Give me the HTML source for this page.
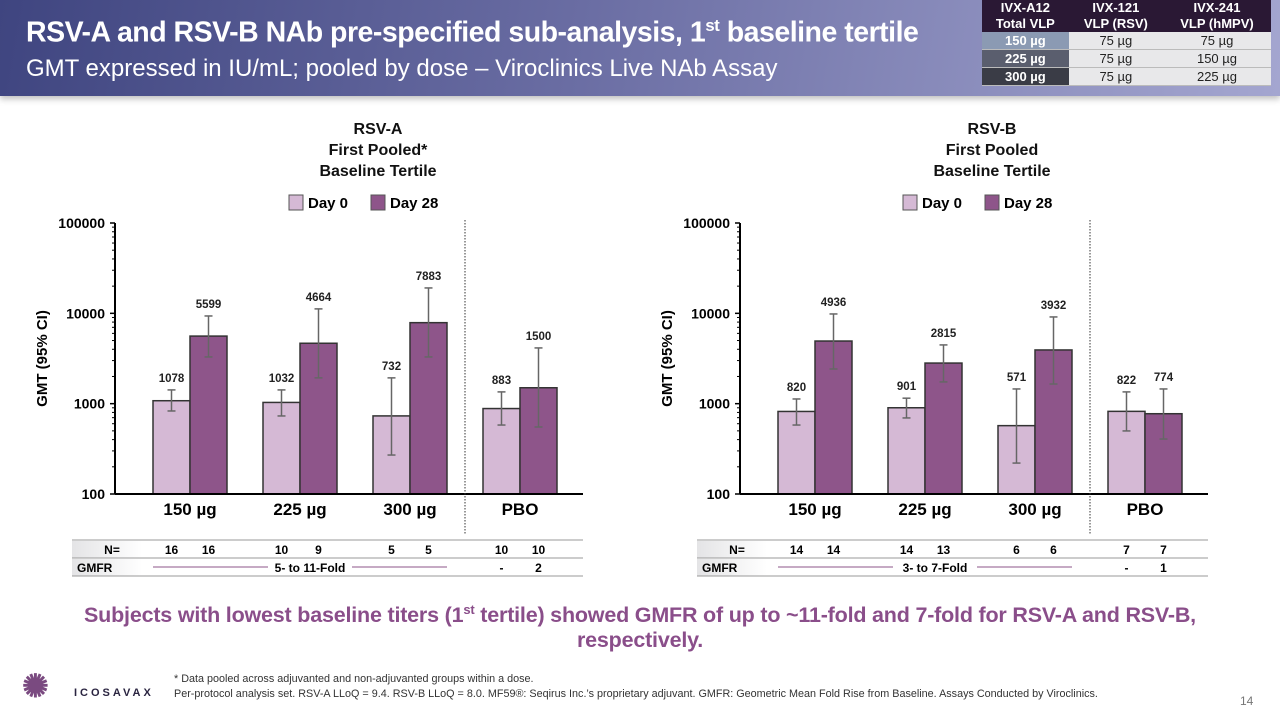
<!DOCTYPE html>
<html><head><meta charset="utf-8">
<style>
body{margin:0;width:1280px;height:720px;overflow:hidden;background:#fff;font-family:"Liberation Sans",sans-serif;position:relative}
.hdr{position:absolute;left:0;top:0;width:1280px;height:96px;background:linear-gradient(100deg,#3f4580 0%,#6a6da3 45%,#a4a6d0 100%);box-shadow:0 3px 6px rgba(0,0,0,.25)}
.title{position:absolute;left:26px;top:16px;color:#fff;font-weight:bold;font-size:28.5px;white-space:nowrap;letter-spacing:-0.5px}
.title sup{font-size:17px}
.sub{position:absolute;left:26px;top:55px;color:#fff;font-size:24px;white-space:nowrap}
table.dose{position:absolute;left:982px;top:0;width:289px;border-collapse:collapse;font-size:13px;text-align:center}
table.dose td{padding:0;height:17px;line-height:17px;border-bottom:1px solid #bbb}
table.dose tr.h td{background:#2a1834;color:#fff;font-weight:bold;height:16px;line-height:16px;border:none}
.l1{background:#8b9ab3;color:#fff;font-weight:bold}.l2{background:#5a5e6e;color:#fff;font-weight:bold}.l3{background:#3a3c46;color:#fff;font-weight:bold}
.c{background:#e8e8ea;color:#222}
.concl{position:absolute;left:20px;width:1240px;top:597px;text-align:center;color:#8a4e8a;font-weight:bold;font-size:21.5px;line-height:25px;letter-spacing:-0.2px}
.concl sup{font-size:13px}
.foot{position:absolute;left:174px;top:672px;font-size:10.8px;color:#333;line-height:15px;white-space:nowrap}
.logo{position:absolute;left:74px;top:687px;font-size:11px;letter-spacing:3px;color:#2a2440;font-weight:bold}
.pg{position:absolute;left:1240px;top:694px;font-size:12px;color:#777}
</style></head><body>
<div class="hdr">
 <div class="title">RSV-A and RSV-B NAb pre-specified sub-analysis, 1<sup>st</sup> baseline tertile</div>
 <div class="sub">GMT expressed in IU/mL; pooled by dose – Viroclinics Live NAb Assay</div>
</div>
<table class="dose">
<tr class="h"><td>IVX-A12</td><td>IVX-121</td><td>IVX-241</td></tr>
<tr class="h"><td>Total VLP</td><td>VLP (RSV)</td><td>VLP (hMPV)</td></tr>
<tr><td class="l1">150 µg</td><td class="c">75 µg</td><td class="c">75 µg</td></tr>
<tr><td class="l2">225 µg</td><td class="c">75 µg</td><td class="c">150 µg</td></tr>
<tr><td class="l3">300 µg</td><td class="c">75 µg</td><td class="c">225 µg</td></tr>
</table>
<svg id="chart" width="1280" height="720" style="position:absolute;left:0;top:0"></svg>
<div class="concl">Subjects with lowest baseline titers (1<sup>st</sup> tertile) showed GMFR of up to ~11-fold and 7-fold for RSV-A and RSV-B,<br>respectively.</div>
<div class="logo"><span style="position:absolute;left:-52px;top:-20px;font-size:32px;color:#7a4a80;letter-spacing:0">✺</span>ICOSAVAX</div>
<div class="foot">* Data pooled across adjuvanted and non-adjuvanted groups within a dose.<br>Per-protocol analysis set. RSV-A LLoQ = 9.4. RSV-B LLoQ = 8.0. MF59®: Seqirus Inc.’s proprietary adjuvant. GMFR: Geometric Mean Fold Rise from Baseline. Assays Conducted by Viroclinics.</div>
<div class="pg">14</div>
<script>
const categories=["150 µg","225 µg","300 µg","PBO"];
const yTicks=[100,1000,10000,100000];
const aDay0=[1078,1032,732,883];
const aDay0Lo=[830,731,270,580];
const aDay0Hi=[1420,1420,1930,1350];
const aDay28=[5599,4664,7883,1500];
const aDay28Lo=[3290,1930,3290,552];
const aDay28Hi=[9350,11200,19100,4140];
const aN0=["16","10","5","10"];
const aN28=["16","9","5","10"];
const aGmfr="5- to 11-Fold";const aPbo=["-","2"];
const bDay0=[820,901,571,822];
const bDay0Lo=[580,695,220,499];
const bDay0Hi=[1127,1150,1455,1350];
const bDay28=[4936,2815,3932,774];
const bDay28Lo=[2420,1740,1650,406];
const bDay28Hi=[9840,4470,9120,1455];
const bN0=["14","14","6","7"];
const bN28=["14","13","6","7"];
const bGmfr="3- to 7-Fold";const bPbo=["-","1"];

const svg=document.getElementById('chart');const NS='http://www.w3.org/2000/svg';
function mk(t,a,txt){const e=document.createElementNS(NS,t);for(const k in a)e.setAttribute(k,a[k]);if(txt!==undefined)e.textContent=txt;svg.appendChild(e);return e;}
const FF='"Liberation Sans",sans-serif';
function draw(o){
 const x0=o.x0,xR=o.x0+468,yB=494,yT=223,step=110,c0=o.x0+75,bw=37;
 const y=v=>yB-(Math.log10(v)-2)*(yB-yT)/3;
 const cx=i=>c0+i*step;
 o.title.forEach((t,i)=>{const e=mk('text',{x:o.tx,y:134+i*21,'text-anchor':'middle','font-size':16,'font-weight':'bold','font-family':FF,fill:'#111'},t);
 });
 let lg=mk('rect',{x:o.tx-89,y:195,width:14,height:15,fill:'#d5b9d5',stroke:'#555'});
 
 let lt=mk('text',{x:o.tx-70,y:208,'font-size':15,'font-weight':'bold','font-family':FF},'Day 0');
 
 lg=mk('rect',{x:o.tx-7,y:195,width:14,height:15,fill:'#8e558a',stroke:'#555'});
 
 lt=mk('text',{x:o.tx+12,y:208,'font-size':15,'font-weight':'bold','font-family':FF},'Day 28');
 
 const yt=mk('text',{x:0,y:0,transform:`translate(${x0-68},${(yB+yT)/2}) rotate(-90)`,'text-anchor':'middle','font-size':15,'font-weight':'bold','font-family':FF},'GMT (95% CI)');
 
 yTicks.forEach((t,k)=>{const tl=mk('text',{x:x0-10,y:y(t)+5,'text-anchor':'end','font-size':14,'font-weight':'bold','font-family':FF},String(t));
  
  mk('line',{x1:x0-5,x2:x0,y1:y(t),y2:y(t),stroke:'#000','stroke-width':1.5});
  if(k<3)for(let m=2;m<10;m++)mk('line',{x1:x0-3,x2:x0,y1:y(t*m),y2:y(t*m),stroke:'#000','stroke-width':1});});
 const series=[[o.d0,o.d0lo,o.d0hi,'#d5b9d5',-1,'day0'],[o.d28,o.d28lo,o.d28hi,'#8e558a',0,'day28']];
 categories.forEach((c,i)=>{
  series.forEach(s=>{const bx=cx(i)+s[4]*bw;const r=mk('rect',{x:bx,y:y(s[0][i]),width:bw,height:yB-y(s[0][i]),fill:s[3],stroke:'#333','stroke-width':1.5});
   
   const mx=bx+bw/2;mk('line',{x1:mx,x2:mx,y1:y(s[1][i]),y2:y(s[2][i]),stroke:'#666','stroke-width':1.5});
   [s[1][i],s[2][i]].forEach(v=>mk('line',{x1:mx-4,x2:mx+4,y1:y(v),y2:y(v),stroke:'#666','stroke-width':1.5}));
   const vl=mk('text',{x:mx,y:y(s[2][i])-8,'text-anchor':'middle','font-size':11.5,'font-weight':'bold','font-family':FF,fill:'#222'},String(s[0][i]));
   });
  const cl=mk('text',{x:cx(i),y:yB+21,'text-anchor':'middle','font-size':17,'font-weight':'bold','font-family':FF},c);
  
 });
 mk('line',{x1:x0,x2:x0,y1:yT,y2:yB,stroke:'#000','stroke-width':2});
 mk('line',{x1:x0,x2:xR,y1:yB,y2:yB,stroke:'#000','stroke-width':2});
 const dx=(cx(2)+cx(3))/2;mk('line',{x1:dx,x2:dx,y1:220,y2:535,stroke:'#333','stroke-width':1,'stroke-dasharray':'1.5,1.5'});
 const tx=x0-43;
 const g=mk('rect',{x:tx,y:540,width:xR-tx,height:36,fill:'#fff'});
 
 mk('rect',{x:tx,y:541,width:70,height:17,fill:'url(#gr)'});mk('rect',{x:tx,y:559,width:70,height:17,fill:'url(#gr)'});
 [540,558,576].forEach(yy=>mk('line',{x1:tx,x2:xR,y1:yy,y2:yy,stroke:'#999','stroke-width':1}));
 mk('text',{x:tx+40,y:554,'text-anchor':'middle','font-size':12,'font-weight':'bold','font-family':FF},'N=');
 mk('text',{x:tx+5,y:572,'font-size':12,'font-weight':'bold','font-family':FF},'GMFR');
 categories.forEach((c,i)=>{mk('text',{x:cx(i)-bw/2,y:554,'text-anchor':'middle','font-size':12,'font-weight':'bold','font-family':FF},o.n0[i]);
  mk('text',{x:cx(i)+bw/2,y:554,'text-anchor':'middle','font-size':12,'font-weight':'bold','font-family':FF},o.n28[i]);});
 const mid=cx(1)+10;mk('text',{x:mid,y:572,'text-anchor':'middle','font-size':12,'font-weight':'bold','font-family':FF},o.gm);
 mk('line',{x1:cx(0)-bw,x2:mid-42,y1:567,y2:567,stroke:'#8e558a'});mk('line',{x1:mid+42,x2:cx(2)+bw,y1:567,y2:567,stroke:'#8e558a'});
 mk('text',{x:cx(3)-bw/2,y:572,'text-anchor':'middle','font-size':12,'font-weight':'bold','font-family':FF},o.pbo[0]);
 mk('text',{x:cx(3)+bw/2,y:572,'text-anchor':'middle','font-size':12,'font-weight':'bold','font-family':FF},o.pbo[1]);
}
const defs=mk('defs',{});defs.innerHTML='<linearGradient id="gr"><stop offset="0" stop-color="#e4e4e6"/><stop offset="1" stop-color="#fff"/></linearGradient>';
draw({x0:115,tx:378,title:['RSV-A','First Pooled*','Baseline Tertile'],d0:aDay0,d0lo:aDay0Lo,d0hi:aDay0Hi,d28:aDay28,d28lo:aDay28Lo,d28hi:aDay28Hi,n0:aN0,n28:aN28,gm:aGmfr,pbo:aPbo});
draw({x0:740,tx:992,title:['RSV-B','First Pooled','Baseline Tertile'],d0:bDay0,d0lo:bDay0Lo,d0hi:bDay0Hi,d28:bDay28,d28lo:bDay28Lo,d28hi:bDay28Hi,n0:bN0,n28:bN28,gm:bGmfr,pbo:bPbo});
</script>
</body></html>
